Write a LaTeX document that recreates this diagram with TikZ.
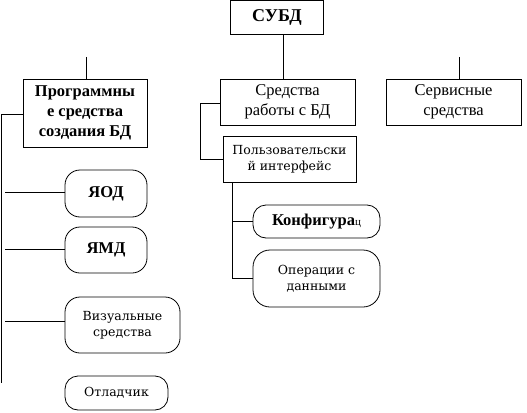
\documentclass[tikz,border=0pt]{standalone}
\usepackage{fontspec}
\setmainfont{Liberation Serif}
\newfontfamily\wideserif{DejaVu Serif}
\begin{document}
\begin{tikzpicture}[x=1pt,y=-1pt,line width=0.8pt,
  box/.style={draw,rectangle,inner sep=0pt,align=center},
  pill/.style={draw,rectangle,rounded corners=15pt,inner sep=0pt,align=center},
  big/.style={font=\fontsize{16.5}{19.5}\selectfont},
  bigbf/.style={font=\fontsize{16.5}{20}\selectfont\bfseries},
  small/.style={font=\wideserif\fontsize{12.5}{16}\selectfont}]
\useasboundingbox (0,0) rectangle (527,412);
% top level
\node[box,minimum width=93pt,minimum height=34pt,font=\fontsize{18}{20}\selectfont\bfseries] (subd) at (277,17) {СУБД};
\node[box,minimum width=124pt,minimum height=68pt,bigbf] (prog) at (85,113) {Программны\\е средства\\создания БД};
\node[box,minimum width=135pt,minimum height=46pt,big] (sred) at (287.5,102) {Средства\\работы с БД};
\node[box,minimum width=135pt,minimum height=46pt,big] (serv) at (453.5,102) {Сервисные\\средства};
\node[box,minimum width=133pt,minimum height=46pt,small] (polz) at (289.5,159) {Пользовательски\\й интерфейс};
% left pills
\node[pill,minimum width=82pt,minimum height=47pt,bigbf] (yod) at (106,193.5) {ЯОД};
\node[pill,minimum width=82pt,minimum height=46pt,bigbf] (ymd) at (106,250) {ЯМД};
\node[pill,minimum width=115pt,minimum height=56pt,small] (viz) at (122.5,325) {Визуальные\\средства};
\node[pill,minimum width=103pt,minimum height=34pt,small,rounded corners=13pt] (otl) at (116.5,393) {Отладчик};
% right pills
\node[pill,minimum width=127pt,minimum height=33pt,rounded corners=13pt] (konf) at (316.5,221.5) {\fontsize{16.5}{19}\selectfont\bfseries Конфигура{\fontsize{11}{12}\selectfont\mdseries ц}};
\node[pill,minimum width=127pt,minimum height=57pt,small,rounded corners=17pt] (oper) at (316.5,278.5) {Операции с\\данными};
% coordinates
\coordinate (cx) at (283,0);
\coordinate (ps) at (86,57);
\coordinate (ss) at (459,57);
\coordinate (lt) at (1,114);
\coordinate (lb) at (1,383);
\coordinate (b1) at (5,192);
\coordinate (b2) at (5,249);
\coordinate (b3) at (5,321);
\coordinate (mt) at (200,103);
\coordinate (mb) at (200,159);
\coordinate (rx) at (232,0);
% connectors
\draw (cx |- subd.south) -- (cx |- sred.north);
\draw (ps) -- (ps |- prog.north);
\draw (ss) -- (ss |- serv.north);
\draw (prog.west |- lt) -- (lt) -- (lb);
\draw (b1) -- (b1 -| yod.west);
\draw (b2) -- (b2 -| ymd.west);
\draw (b3) -- (b3 -| viz.west);
\draw (sred.west |- mt) -- (mt) -- (mb) -- (polz.west |- mb);
\draw (rx |- polz.south) -- (rx |- oper.west) -- (oper.west);
\draw (rx |- konf.west) -- (konf.west);
\end{tikzpicture}
\end{document}
